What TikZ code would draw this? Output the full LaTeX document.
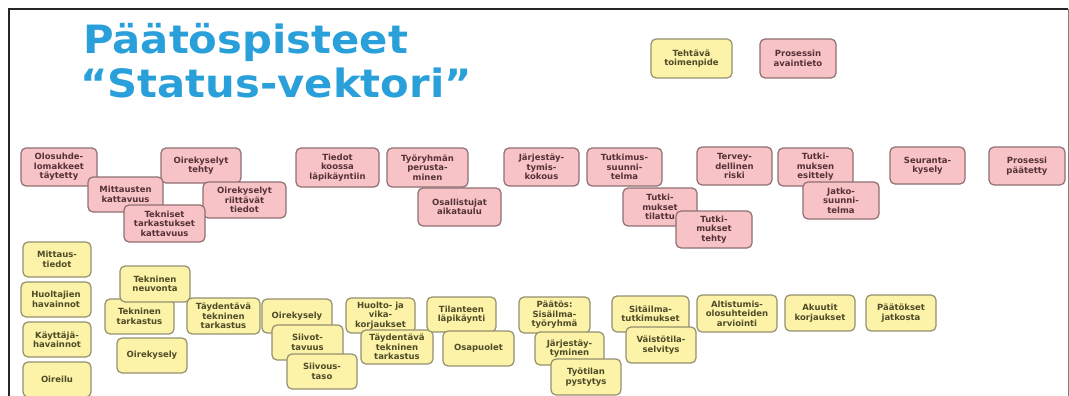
\documentclass[tikz,border=0pt]{standalone}
\usepackage{fontspec}
\setmainfont{DejaVu Sans}
\definecolor{pkfill}{HTML}{F8C3C6}
\definecolor{pkline}{HTML}{8F6F72}
\definecolor{pktext}{HTML}{553238}
\definecolor{ylfill}{HTML}{FCF3A8}
\definecolor{ylline}{HTML}{949070}
\definecolor{yltext}{HTML}{4F4B28}
\definecolor{titleblue}{HTML}{29A0DA}
\newcommand\bxfont{\fontsize{8.5}{9.4}\selectfont\bfseries}
\newcommand\bx[7]{\node[#1, minimum width={#5-#3}, minimum height={#6-#4}] (#2) at ({(#3+#5)/2},{(#4+#6)/2}) {#7};}
\tikzset{
  boxbase/.style={rounded corners=5pt, line width=1.2pt, align=center, inner sep=0pt, font=\bxfont},
  pk/.style={boxbase, draw=pkline, fill=pkfill, text=pktext},
  yl/.style={boxbase, draw=ylline, fill=ylfill, text=yltext},
  titletext/.style={anchor=base west, inner sep=0pt, text=titleblue, xscale=1.07, font=\fontsize{39}{44}\selectfont\bfseries}
}
\begin{document}
\begin{tikzpicture}[x=1pt,y=-1pt]
\useasboundingbox (0,0) rectangle (1069,396);
\fill[white] (0,0) rectangle (1069,396);
% frame
\draw[line width=2pt, black!85] (9,400) -- (9,9) -- (1068,9);
\draw[line width=1pt, black!50] (1068,9) -- (1068,400);
% title
\node[titletext] (t1) at (83,54) {Päätöspisteet};
\node[titletext] (t2) at (80,98) {“Status-vektori”};
% legend
\bx{yl}{legT}{651}{39}{732}{78}{Tehtävä\\toimenpide}
\bx{pk}{legP}{760}{39}{836}{78}{Prosessin\\avaintieto}
% pink row
\bx{pk}{olo}{21}{148}{97}{186}{Olosuhde-\\lomakkeet\\täytetty}
\bx{pk}{oteh}{161}{148}{241}{183}{Oirekyselyt\\tehty}
\bx{pk}{mitk}{88}{177}{163}{212}{Mittausten\\kattavuus}
\bx{pk}{oriit}{203}{182}{286}{218}{Oirekyselyt\\riittävät\\tiedot}
\bx{pk}{tekk}{124}{205}{205}{242}{Tekniset\\tarkastukset\\kattavuus}
\bx{pk}{tied}{296}{148}{379}{187}{Tiedot\\koossa\\läpikäyntiin}
\bx{pk}{tyor}{387}{148}{468}{187}{Työryhmän\\perusta-\\minen}
\bx{pk}{osal}{418}{188}{501}{226}{Osallistujat\\aikataulu}
\bx{pk}{jarjk}{504}{148}{579}{186}{Järjestäy-\\tymis-\\kokous}
\bx{pk}{tsuun}{587}{148}{662}{186}{Tutkimus-\\suunni-\\telma}
\bx{pk}{ttil}{623}{188}{697}{226}{Tutki-\\mukset\\tilattu}
\bx{pk}{tteh}{676}{211}{752}{248}{Tutki-\\mukset\\tehty}
\bx{pk}{terv}{697}{147}{772}{185}{Tervey-\\dellinen\\riski}
\bx{pk}{tesi}{778}{148}{853}{186}{Tutki-\\muksen\\esittely}
\bx{pk}{jatk}{803}{182}{879}{219}{Jatko-\\suunni-\\telma}
\bx{pk}{seur}{890}{147}{965}{184}{Seuranta-\\kysely}
\bx{pk}{ppaa}{989}{147}{1065}{185}{Prosessi\\päätetty}
% yellow
\bx{yl}{mitt}{23}{242}{91}{277}{Mittaus-\\tiedot}
\bx{yl}{huol}{21}{282}{91}{317}{Huoltajien\\havainnot}
\bx{yl}{kayt}{23}{322}{91}{357}{Käyttäjä-\\havainnot}
\bx{yl}{oire}{23}{362}{91}{397}{Oireilu}
\bx{yl}{ttar}{105}{299}{174}{334}{Tekninen\\tarkastus}
\bx{yl}{tneu}{120}{266}{190}{302}{Tekninen\\neuvonta}
\bx{yl}{tayd}{187}{298}{260}{334}{Täydentävä\\tekninen\\tarkastus}
\bx{yl}{oky1}{117}{338}{187}{373}{Oirekysely}
\bx{yl}{oky2}{262}{299}{332}{333}{Oirekysely}
\bx{yl}{siit}{272}{325}{343}{360}{Siivot-\\tavuus}
\bx{yl}{siita}{287}{354}{357}{389}{Siivous-\\taso}
\bx{yl}{huvk}{346}{298}{415}{333}{Huolto- ja\\vika-\\korjaukset}
\bx{yl}{tayd2}{361}{330}{433}{364}{Täydentävä\\tekninen\\tarkastus}
\bx{yl}{tila}{427}{297}{496}{332}{Tilanteen\\läpikäynti}
\bx{yl}{osap}{443}{331}{514}{366}{Osapuolet}
\bx{yl}{paat}{519}{297}{590}{333}{Päätös:\\Sisäilma-\\työryhmä}
\bx{yl}{jarj}{535}{332}{604}{365}{Järjestäy-\\tyminen}
\bx{yl}{tyot}{551}{359}{621}{395}{Työtilan\\pystytys}
\bx{yl}{sisa}{612}{296}{689}{332}{Sitäilma-\\tutkimukset}
\bx{yl}{vais}{626}{327}{696}{363}{Väistötila-\\selvitys}
\bx{yl}{alti}{697}{295}{777}{332}{Altistumis-\\olosuhteiden\\arviointi}
\bx{yl}{akuu}{785}{295}{855}{331}{Akuutit\\korjaukset}
\bx{yl}{paatj}{866}{295}{936}{331}{Päätökset\\jatkosta}
\end{tikzpicture}
\end{document}
